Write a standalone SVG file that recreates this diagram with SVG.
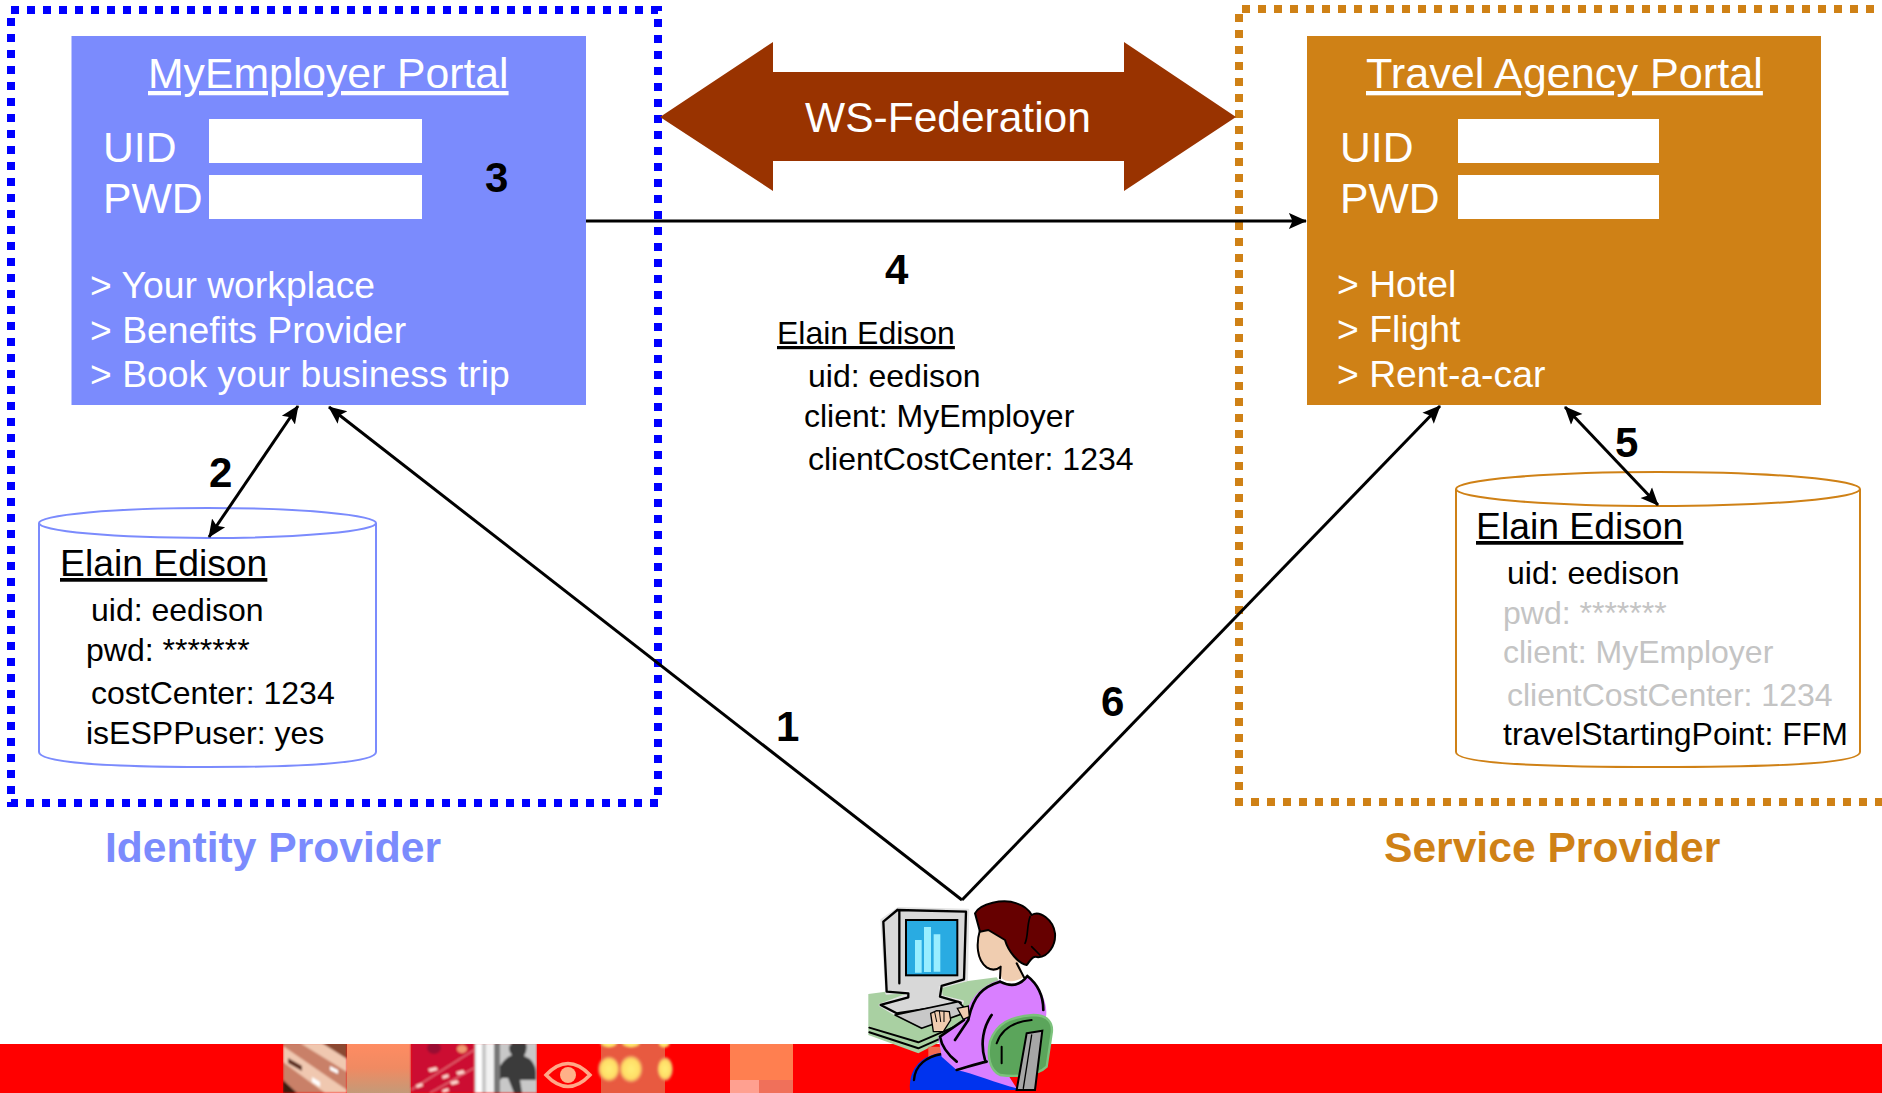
<svg xmlns="http://www.w3.org/2000/svg" width="1882" height="1093" viewBox="0 0 1882 1093">
<style>
text{font-family:"Liberation Sans",Arial,sans-serif}
.t{font-size:42.700px;fill:#fff}
.l{font-size:37.300px;fill:#fff}
.u{text-decoration:underline}
.n{font-size:42px;font-weight:bold;fill:#000}
.a{font-size:32px;fill:#000}
.g{fill:#c4c4c4}
.h{font-size:37.300px;fill:#000}
.c{stroke:#000;stroke-width:3;fill:none}
.k{stroke:#000;fill:none;stroke-linecap:round;stroke-linejoin:round}
</style>
<defs>
<marker id="ah" viewBox="0 0 10 10" refX="9.500" refY="5" markerWidth="6" markerHeight="6" orient="auto-start-reverse" markerUnits="strokeWidth"><path d="M0 0.600L10 5L0 9.400L2 5Z" fill="#000"/></marker>
<linearGradient id="peach" x1="0" y1="0" x2="0" y2="1"><stop offset="0" stop-color="#ff8c62"/><stop offset="0.500" stop-color="#f08a62"/><stop offset="1" stop-color="#c49a78"/></linearGradient>
<radialGradient id="blob"><stop offset="0" stop-color="#ffee77"/><stop offset="0.700" stop-color="#ffdd66"/><stop offset="1" stop-color="#e86a50"/></radialGradient>
<clipPath id="strip"><rect x="283" y="1044" width="510" height="49"/></clipPath>
<filter id="soft" x="-10%" y="-10%" width="120%" height="120%"><feGaussianBlur stdDeviation="0.900"/></filter>
</defs>
<rect width="1882" height="1093" fill="#fff"/>

<g id="footer">
<rect y="1044" width="1882" height="49" fill="#f00"/>
<g clip-path="url(#strip)">
<g id="tile1" filter="url(#soft)"><rect x="283" y="1043" width="64" height="50" fill="#c98068"/>
<path d="M283 1046L347 1090V1093H325L283 1062Z" fill="#f0c8b0"/><path d="M300 1043L347 1072V1058L322 1043Z" fill="#f0c8b0"/><path d="M288 1058l14 8v5l-14-8Z" fill="#5a2a1a"/><path d="M322 1043h25v16Z" fill="#8a4a30"/><path d="M283 1080l14 13h-14Z" fill="#3a1a10"/><path d="M312 1077l8 5v5l-8-5ZM330 1066l8 4v4l-8-4Z" fill="#fff"/></g>
<rect id="tile2" x="347" y="1043" width="64" height="50" fill="url(#peach)"/>
<g id="tile3" filter="url(#soft)"><rect x="411" y="1043" width="63" height="50" fill="#cc1133"/>
<path d="M411 1090L474 1050M430 1093L474 1068" stroke="#e06070" stroke-width="1.500"/><ellipse cx="434" cy="1048" rx="7" ry="6" fill="#991133"/><ellipse cx="462" cy="1049" rx="5" ry="4" fill="#f09a70"/><path d="M428 1069l8-2 2 3-8 2ZM456 1072l7-2 2 3-7 2ZM450 1082l7-2 2 3-7 2Z M442 1076l6-2 1 3-6 2ZM416 1085l6-2 1 3-6 2ZM442 1090l6-2 1 3-6 2Z" fill="#ffd8d0"/></g>
<g id="tile4" filter="url(#soft)"><rect x="474" y="1043" width="63" height="50" fill="#c8c8c8"/><rect x="476" y="1043" width="6" height="50" fill="#fff"/><rect x="486" y="1043" width="8" height="50" fill="#f2f2f2"/><rect x="494" y="1043" width="6" height="50" fill="#777"/>
<path d="M500 1080V1066Q505 1058 512 1055Q506 1048 512 1043H526Q528 1050 524 1056Q535 1060 536 1072V1080H520L522 1093H514L508 1078H502Z" fill="#3a3a3a"/></g>
<g id="tile5"><rect x="537" y="1043" width="64" height="50" fill="#f00"/>
<path d="M546 1075Q568 1052 590 1075Q568 1098 546 1075Z" fill="none" stroke="#ffa888" stroke-width="3.500"/><circle cx="568" cy="1075" r="8" fill="#ffb088"/></g>
<g id="tile6"><rect x="601" y="1043" width="64" height="50" fill="#e85a40"/><g filter="url(#soft)"><ellipse cx="609" cy="1069" rx="11" ry="13" fill="url(#blob)"/><ellipse cx="631" cy="1069" rx="12" ry="14" fill="url(#blob)"/><ellipse cx="665" cy="1069" rx="8" ry="12" fill="url(#blob)"/><ellipse cx="609" cy="1043" rx="9" ry="5" fill="url(#blob)"/><ellipse cx="631" cy="1043" rx="10" ry="5" fill="url(#blob)"/><ellipse cx="664" cy="1043" rx="6" ry="5" fill="url(#blob)"/></g></g>
<g id="tile8"><rect x="730" y="1043" width="63" height="50" fill="#ff7f50"/><rect x="730" y="1080" width="29" height="13" fill="#ffa090"/><rect x="759" y="1080" width="34" height="13" fill="#f0705a"/></g>
</g>
</g>

<g id="identity-provider-frame"><rect x="11" y="10" width="647" height="793" fill="none" stroke="#00f" stroke-width="8" stroke-dasharray="8 8"/></g>
<g id="service-provider-frame"><path d="M1890 9H1239V802H1890" fill="none" stroke="#cf8116" stroke-width="8" stroke-dasharray="8 8"/></g>

<g id="myemployer-portal">
<rect x="71.500" y="36" width="514.500" height="369" fill="#7b8bfd"/>
<text class="t u" x="148" y="88">MyEmployer Portal</text>
<text class="t" x="103" y="162">UID</text><rect x="209" y="119" width="213" height="44" fill="#fff"/>
<text class="t" x="103" y="213">PWD</text><rect x="209" y="175" width="213" height="44" fill="#fff"/>
<text class="l" x="90" y="298">&gt; Your workplace</text>
<text class="l" x="90" y="343">&gt; Benefits Provider</text>
<text class="l" x="90" y="387">&gt; Book your business trip</text>
</g>

<g id="travel-agency-portal">
<rect x="1307" y="36" width="514" height="369" fill="#cf8116"/>
<text class="t u" x="1366" y="88" style="font-size:43.200px">Travel Agency Portal</text>
<text class="t" x="1340" y="162">UID</text><rect x="1458" y="119" width="201" height="44" fill="#fff"/>
<text class="t" x="1340" y="213">PWD</text><rect x="1458" y="175" width="201" height="44" fill="#fff"/>
<text class="l" x="1337" y="297">&gt; Hotel</text>
<text class="l" x="1337" y="342">&gt; Flight</text>
<text class="l" x="1337" y="387">&gt; Rent-a-car</text>
</g>

<g id="ws-federation">
<path d="M660 117L773 42V72H1124V42L1236 117L1124 191V161H773V191Z" fill="#993300"/>
<text class="t" x="948" y="132" text-anchor="middle" style="font-size:42.500px">WS-Federation</text>
</g>

<g id="idp-store">
<path d="M39 523V752C39 762 100 767 208 767S376 762 376 752V523" fill="#fff" stroke="#7b8bfd" stroke-width="2"/>
<ellipse cx="207.500" cy="523" rx="168.500" ry="15" fill="#fff" stroke="#7b8bfd" stroke-width="2"/>
<text class="h u" x="60" y="576">Elain Edison</text>
<text class="a" x="91" y="621">uid: eedison</text>
<text class="a" x="86" y="661">pwd: *******</text>
<text class="a" x="91" y="704">costCenter: 1234</text>
<text class="a" x="86" y="744">isESPPuser: yes</text>
</g>

<g id="sp-store">
<path d="M1456 489V752C1456 762 1520 767 1658 767S1860 762 1860 752V489" fill="#fff" stroke="#cf8116" stroke-width="2"/>
<ellipse cx="1658" cy="489" rx="202" ry="17" fill="#fff" stroke="#cf8116" stroke-width="2"/>
<text class="h u" x="1476" y="539">Elain Edison</text>
<text class="a" x="1507" y="584">uid: eedison</text>
<text class="a g" x="1503" y="624">pwd: *******</text>
<text class="a g" x="1503" y="663">client: MyEmployer</text>
<text class="a g" x="1507" y="706">clientCostCenter: 1234</text>
<text class="a" x="1503" y="745">travelStartingPoint: FFM</text>
</g>

<g id="token">
<text class="a u" x="777" y="344">Elain Edison</text>
<text class="a" x="808" y="387">uid: eedison</text>
<text class="a" x="804" y="427">client: MyEmployer</text>
<text class="a" x="808" y="470">clientCostCenter: 1234</text>
</g>

<g id="connectors">
<path class="c" d="M586 221H1306" marker-end="url(#ah)"/>
<path class="c" d="M962 900L329 407" marker-end="url(#ah)"/>
<path class="c" d="M962 900L1440 406" marker-end="url(#ah)"/>
<path class="c" d="M298 406L209 537" marker-start="url(#ah)" marker-end="url(#ah)"/>
<path class="c" d="M1565 407L1658 505" marker-start="url(#ah)" marker-end="url(#ah)"/>
</g>

<g id="step-labels">
<text class="n" x="485" y="192">3</text>
<text class="n" x="885" y="284">4</text>
<text class="n" x="209" y="487">2</text>
<text class="n" x="1615" y="457">5</text>
<text class="n" x="776" y="741">1</text>
<text class="n" x="1101" y="716">6</text>
</g>

<g id="provider-labels">
<text class="t" x="105" y="862" style="font-weight:bold;fill:#7b8bfd;font-size:42.600px">Identity Provider</text>
<text class="t" x="1384" y="862" style="font-weight:bold;fill:#cf8116;font-size:42.600px">Service Provider</text>
</g>

<g id="user" transform="translate(840 880) scale(.3333)">
<path d="M85 342L470 292L500 340L380 445L235 520L85 465Z" fill="#a9d0a2"/>
<path class="k" stroke-width="6" d="M88 443L235 487L380 425M88 457L235 505L370 445"/>
<path d="M125 120L175 85L384 90L380 300L300 322L305 350L368 365L362 378L170 405L120 375L200 345L205 335L140 340Z" fill="#d8d8d8" stroke="#e4e4e4" stroke-width="8" stroke-linejoin="round"/>
<path class="k" stroke-width="7" d="M172 90L378 95L372 298L305 318L300 350L362 368M172 90L130 125L140 335L205 340L205 352L122 375L170 400L362 372M178 92V310"/>
<rect x="198" y="120" width="154" height="166" fill="#29abe2" stroke="#000" stroke-width="6"/>
<path d="M225 180h20v98h-20ZM252 141h21v135h-21ZM281 163h20v112h-20Z" fill="#99eeff"/>
<path d="M165 405L355 365L385 395L245 445Z" fill="#c8c8c8" stroke="#000" stroke-width="5" stroke-linejoin="round"/>
<path d="M265 500H420L455 630H265Z" fill="#f06a50"/>
<path d="M210 630C205 570 240 525 310 518L420 560L540 630Z" fill="#0033ee"/>
<path class="k" stroke-width="7" d="M222 600C225 555 260 530 305 522"/>
<path d="M480 300C500 320 540 320 562 290C600 315 625 370 618 410L450 500L530 625C470 610 400 580 350 570L305 530L295 470L370 420C385 370 410 320 480 300Z" fill="#d97fff"/>
<path class="k" stroke-width="8" d="M480 305C430 320 400 345 385 420L345 480M372 420L300 470C305 500 325 525 350 545M480 305C510 320 540 318 562 288M562 288C590 310 610 345 610 390M455 405C430 440 420 490 435 540M350 570C385 560 415 550 440 545"/>
<path d="M272 400L290 392L328 395L332 420L310 455L280 455Z" fill="#f0cdb0" stroke="#000" stroke-width="4"/>
<path class="k" stroke-width="3" d="M284 396L290 425M298 392L302 425M312 394L312 425"/>
<path d="M352 385L385 378L388 410L370 418Z" fill="#f0cdb0" stroke="#000" stroke-width="4"/>
<path d="M420 150C405 190 405 240 440 265C460 275 475 270 480 270L485 295C500 310 530 305 552 290L530 230L500 140Z" fill="#f0cdb0"/>
<path class="k" stroke-width="6" d="M420 150C408 190 410 240 440 262C455 272 470 270 482 260M482 260L480 295M530 250L552 292"/>
<path d="M405 100C420 70 490 55 530 70C560 80 570 95 575 105C600 90 640 120 645 160C648 195 625 230 595 232C575 225 570 245 560 255C535 250 505 215 495 180L445 150L420 155Z" fill="#660000" stroke="#000" stroke-width="6" stroke-linejoin="round"/>
<path class="k" stroke-width="5" d="M570 110C560 140 565 170 555 190M575 200L600 225"/>
<path d="M450 485C470 430 510 410 580 405C625 405 640 430 635 460L620 560C590 590 520 590 480 585C450 570 440 530 450 485Z" fill="#5ba55b" stroke="#7cc27c" stroke-width="7"/>
<path class="k" stroke-width="6" d="M470 490C485 445 520 425 575 420M485 500V550"/>
<path d="M560 460L607 452L585 630H530Z" fill="#a6a6a6" stroke="#000" stroke-width="6"/>
<path class="k" stroke-width="4" d="M575 465L550 625"/>
</g>
</svg>
